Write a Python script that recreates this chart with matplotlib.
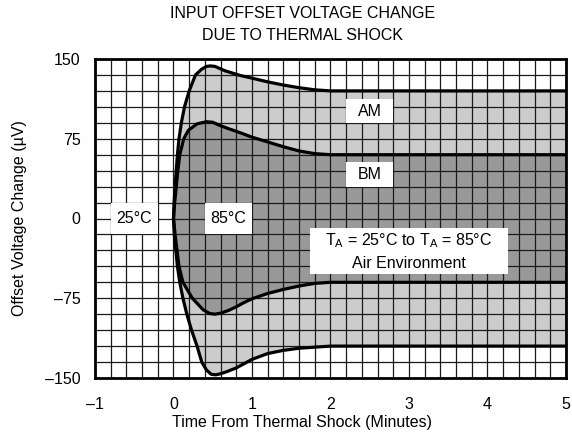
import matplotlib
matplotlib.use("Agg")
import matplotlib.pyplot as plt
from matplotlib.patches import Rectangle
import numpy as np

plt.rcParams['font.family'] = ['Liberation Sans', 'DejaVu Sans']
plt.rcParams['mathtext.fontset'] = 'custom'
plt.rcParams['mathtext.rm'] = 'Liberation Sans'

# Outer envelope (AM)
am_up_x = [0, 0.008, 0.02, 0.035, 0.05, 0.07, 0.1, 0.14, 0.2, 0.28, 0.36, 0.42, 0.47, 0.53, 0.59, 0.66, 0.74, 0.85, 1.0, 1.2, 1.4, 1.6, 1.8, 2.0, 5.0]
am_up_y = [0, 15, 30, 45, 60, 75, 90, 105, 120, 135, 140.5, 143, 143.5, 143, 141, 138.8, 137, 134.5, 132, 128.5, 125.5, 123, 121, 120, 120]
am_lo_x = [0, 0.01, 0.03, 0.05, 0.08, 0.12, 0.17, 0.23, 0.30, 0.36, 0.42, 0.48, 0.54, 0.6, 0.68, 0.8, 0.9, 1.0, 1.2, 1.4, 1.6, 1.8, 2.0, 5.0]
am_lo_y = [0, -15, -30, -45, -60, -75, -90, -105, -120, -135, -142.5, -146.5, -147, -146, -144, -140.5, -136.5, -132.5, -127, -124, -122, -121, -120, -120]
# Inner envelope (BM)
bm_up_x = [0, 0.015, 0.035, 0.055, 0.08, 0.13, 0.19, 0.3, 0.42, 0.5, 0.59, 0.7, 0.8, 1.0, 1.2, 1.4, 1.6, 1.8, 2.0, 5.0]
bm_up_y = [0, 15, 30, 45, 60, 75, 83, 89, 91, 90.5, 87.5, 84.5, 82, 76.5, 72, 67.5, 63.5, 61, 60, 60]
bm_lo_x = [0, 0.02, 0.045, 0.07, 0.12, 0.24, 0.38, 0.46, 0.53, 0.6, 0.7, 0.8, 0.9, 1.0, 1.2, 1.4, 1.6, 1.8, 2.0, 5.0]
bm_lo_y = [0, -15, -30, -45, -60, -75, -86, -89.3, -90, -89, -86.5, -83, -79, -75.5, -70.5, -66.7, -63.5, -61, -60, -60]

x_ticks = [-1, 0, 1, 2, 3, 4, 5]
x_tick_labels = ['\u20131', '0', '1', '2', '3', '4', '5']
y_ticks = [-150, -75, 0, 75, 150]
y_tick_labels = ['\u2013150', '\u201375', '0', '75', '150']

W, H = 572, 443
FS = 11.5
fig = plt.figure(figsize=(W/100, H/100), dpi=100)
L, R, T, B = 95, 566, 59, 378
ax = fig.add_axes([L/W, 1-B/H, (R-L)/W, (B-T)/H])

ax.set_xlim(-1, 5)
ax.set_ylim(-150, 150)

def env(xs, ys, grid):
    return np.interp(grid, xs, ys)

g = np.union1d(np.union1d(am_up_x, am_lo_x), np.union1d(bm_up_x, bm_lo_x))
ax.fill_between(g, env(am_lo_x, am_lo_y, g), env(am_up_x, am_up_y, g), color='#cccccc', zorder=1, lw=0)
ax.fill_between(g, env(bm_lo_x, bm_lo_y, g), env(bm_up_x, bm_up_y, g), color='#999999', zorder=2, lw=0)

# grid
for xv in np.arange(-1, 5.001, 0.2):
    ax.axvline(xv, color='#1a1a1a', lw=0.9, zorder=3)
for yv in np.arange(-150, 150.1, 15):
    ax.axhline(yv, color='#1a1a1a', lw=0.9, zorder=3)

for xs, ys in [(am_up_x, am_up_y), (am_lo_x, am_lo_y), (bm_up_x, bm_up_y), (bm_lo_x, bm_lo_y)]:
    ax.plot(xs, ys, color='black', lw=2.3, zorder=5, solid_capstyle='round', solid_joinstyle='round')

def label_box(x0, x1, y0, y1, txt):
    ax.add_patch(Rectangle((x0, y0), x1 - x0, y1 - y0, facecolor='white', edgecolor='none', zorder=6))
    ax.text((x0 + x1) / 2, (y0 + y1) / 2, txt, ha='center', va='center', fontsize=FS, zorder=7)

label_box(-0.8, -0.2, -15, 15, '25°C')
label_box(0.4, 1.0, -15, 15, '85°C')
label_box(2.2, 2.8, 90, 112, 'AM')
label_box(2.2, 2.8, 30, 53, 'BM')
ax.add_patch(Rectangle((1.74, -52), 4.26 - 1.74, 43, facecolor='white', edgecolor='none', zorder=6))
ax.text(3.0, -21, '$\\mathregular{T_A}$ = 25°C to $\\mathregular{T_A}$ = 85°C', ha='center', va='center', fontsize=FS, zorder=7)
ax.text(3.0, -42, 'Air Environment', ha='center', va='center', fontsize=FS, zorder=7)

ax.set_xticks(x_ticks)
ax.set_xticklabels(x_tick_labels)
ax.set_yticks(y_ticks)
ax.set_yticklabels(y_tick_labels)
ax.tick_params(axis='x', length=0, labelsize=FS, pad=14)
ax.tick_params(axis='y', length=0, labelsize=FS, pad=10.5)
for s in ax.spines.values():
    s.set_linewidth(2)
    s.set_zorder(8)

fig.text(302.5/W, 1-423/H, 'Time From Thermal Shock (Minutes)', ha='center', va='center', fontsize=FS)
fig.text(20/W, 1-(T+B)/2/H, 'Offset Voltage Change (\u00b5V)', ha='center', va='center', rotation=90, fontsize=FS)
fig.text(302.5/W, 1-14/H, 'INPUT OFFSET VOLTAGE CHANGE', ha='center', va='center', fontsize=FS)
fig.text(302.5/W, 1-35/H, 'DUE TO THERMAL SHOCK', ha='center', va='center', fontsize=FS)

fig.savefig('out.png', dpi=100)
